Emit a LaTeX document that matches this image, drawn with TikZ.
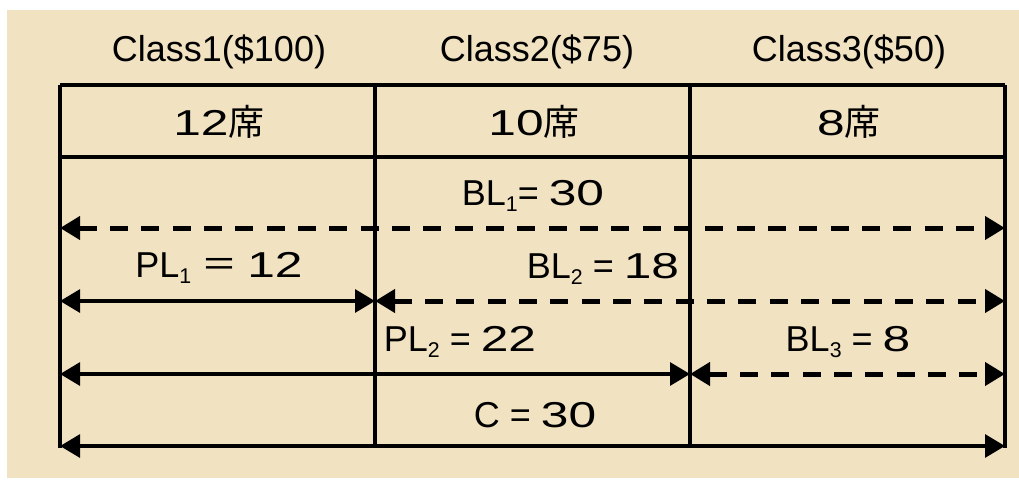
\documentclass[tikz,border=0pt]{standalone}
\usepackage{fontspec}
\setmainfont{Liberation Sans}
\newfontfamily\cjk{Noto Sans CJK JP}
\newfontfamily\dig[FakeStretch=1.38]{Liberation Sans}
\usetikzlibrary{arrows.meta}
\definecolor{parch}{RGB}{241,226,194}
\newcommand{\nm}[1]{{\dig #1}}
\newcommand{\sbs}[1]{\raisebox{-5pt}{\fontsize{16}{16}\selectfont #1}}
\begin{document}
\begin{tikzpicture}[x=0.75pt,y=-0.75pt,
  grid/.style={line width=2.4pt},
  tip/.tip={Triangle[length=15pt,width=17pt]},
  solidarr/.style={line width=3pt,tip-tip},
  dasharr/.style={line width=3.75pt,dash pattern=on 13.5pt off 10pt,tip-tip},
  lbl/.style={font=\fontsize{27}{30}\selectfont,anchor=base,inner sep=0pt},
  hdr/.style={font=\fontsize{27}{30}\selectfont,anchor=base,inner sep=0pt}]
\useasboundingbox (0,0) rectangle (1019,481);
\fill[white] (0,0) rectangle (1019,481);
\fill[parch] (7,10) rectangle (1019,478);
% table corners
\coordinate (t0) at (60,85);  \coordinate (t1) at (375,85);
\coordinate (t2) at (690,85); \coordinate (t3) at (1005,85);
\coordinate (b0) at (60,448);  \coordinate (b1) at (375,448);
\coordinate (b2) at (690,448); \coordinate (b3) at (1005,448);
\coordinate (h0) at (60,157);  \coordinate (h3) at (1005,157);
\draw[grid] (t0) -- (t3);
\draw[grid] (h0) -- (h3);
\draw[grid] (t0) -- (b0);
\draw[grid] (t1) -- (b1);
\draw[grid] (t2) -- (b2);
\draw[grid] (t3) -- (b3);
% arrow end points
\coordinate (r1a) at (60,228);  \coordinate (r1d) at (1005,228);
\coordinate (r2a) at (60,301);  \coordinate (r2b) at (375,301); \coordinate (r2d) at (1005,301);
\coordinate (r3a) at (60,374);  \coordinate (r3c) at (690,374); \coordinate (r3d) at (1005,374);
\coordinate (r4a) at (60,446);  \coordinate (r4d) at (1005,446);
\draw[dasharr] (r1a) -- (r1d);
\draw[solidarr] (r2a) -- (r2b);
\draw[dasharr] (r2b) -- (r2d);
\draw[solidarr] (r3a) -- (r3c);
\draw[dasharr] (r3c) -- (r3d);
\draw[solidarr] (r4a) -- (r4d);
% headers
\node[hdr] (c1) at (219,62) {Class1(\$100)};
\node[hdr] (c2) at (537,62) {Class2(\$75)};
\node[hdr] (c3) at (849,62) {Class3(\$50)};
\node[lbl] (s1) at (219,136) {\nm{12}{\cjk 席}};
\node[lbl] (s2) at (534,136) {\nm{10}{\cjk 席}};
\node[lbl] (s3) at (849,136) {\nm{8}{\cjk 席}};
% labels
\node[lbl] (bl1) at (533,205) {BL\sbs{1}= \nm{30}};
\node[lbl] (pl1) at (219,277) {PL\sbs{1} {\cjk ＝} \nm{12}};
\node[lbl] (bl2) at (603,278) {BL\sbs{2} = \nm{18}};
\node[lbl] (pl2) at (460,351) {PL\sbs{2} = \nm{22}};
\node[lbl] (bl3) at (848,351) {BL\sbs{3} = \nm{8}};
\node[lbl] (cc) at (535,427) {C = \nm{30}};
\end{tikzpicture}
\end{document}
